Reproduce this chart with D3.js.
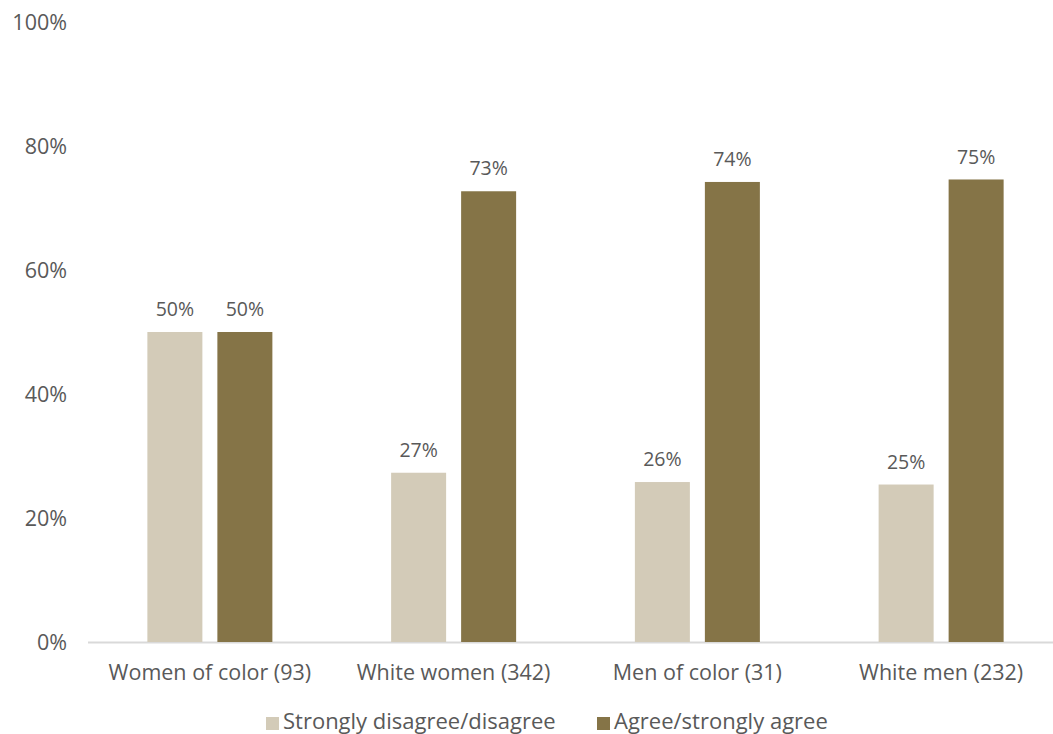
<!DOCTYPE html>
<html><head><meta charset="utf-8">
<script src="https://cdn.jsdelivr.net/npm/d3@7"></script>
<style>
html,body{margin:0;padding:0;background:#fff;}
text{font-family:"Open Sans","Liberation Sans",sans-serif;fill:#595959;}
</style></head>
<body><svg id="chart" width="1053" height="734"></svg>
<script>
const categories = ["Women of color (93)", "White women (342)", "Men of color (31)", "White men (232)"];
const seriesNames = ["Strongly disagree/disagree", "Agree/strongly agree"];
const disagree = [50, 27.3, 25.8, 25.4];
const agree = [50, 72.7, 74.2, 74.6];
const disagreeLabels = ["50%", "27%", "26%", "25%"];
const agreeLabels = ["50%", "73%", "74%", "75%"];
const yTicks = [0, 20, 40, 60, 80, 100];
const colors = ["#d3cbb8", "#857447"];

const svg = d3.select("#chart");
const x0 = 88, x1 = 1063, yTop = 22, yBot = 642;
const x = d3.scaleBand().domain(categories).range([x0, x1]).paddingInner(0).paddingOuter(0);
const y = d3.scaleLinear().domain([0, 100]).range([yBot, yTop]);
const barW = 55, gap = 15;
const sub = d3.scaleOrdinal().domain([0, 1]).range([-(gap / 2) - barW, gap / 2]);

// y tick labels
svg.append("g").selectAll("text").data(yTicks).join("text")
  .attr("x", 67).attr("y", d => y(d)).attr("dy", "0.36em")
  .attr("text-anchor", "end").style("font-size", "21.5px")
  .text(d => d + "%");

// axis line
svg.append("line").attr("x1", x0).attr("x2", 1053).attr("y1", yBot + 0.5).attr("y2", yBot + 0.5)
  .attr("stroke", "#d9d9d9").attr("stroke-width", 2);

const series = [disagree, agree];
const labels = [disagreeLabels, agreeLabels];
series.forEach((vals, si) => {
  const g = svg.append("g");
  g.selectAll("rect").data(vals).join("rect")
    .attr("x", (d, i) => x(categories[i]) + x.bandwidth() / 2 + sub(si))
    .attr("width", barW)
    .attr("y", d => y(d)).attr("height", d => yBot - y(d))
    .attr("fill", colors[si]);
  g.selectAll("text").data(vals).join("text")
    .attr("x", (d, i) => x(categories[i]) + x.bandwidth() / 2 + sub(si) + barW / 2)
    .attr("y", d => y(d) - 23).attr("dy", "0.36em")
    .attr("text-anchor", "middle").style("font-size", "19.5px")
    .text((d, i) => labels[si][i]);
});

// category labels
svg.append("g").selectAll("text").data(categories).join("text")
  .attr("x", d => x(d) + x.bandwidth() / 2).attr("y", 672).attr("dy", "0.36em")
  .attr("text-anchor", "middle").style("font-size", "21.5px")
  .text(d => d);

// legend
const legendX = [266, 597];
const lg = svg.append("g");
seriesNames.forEach((n, i) => {
  lg.append("rect").attr("x", legendX[i]).attr("y", 717).attr("width", 13).attr("height", 13).attr("fill", colors[i]);
  lg.append("text").attr("x", legendX[i] + 17).attr("y", 721).attr("dy", "0.36em")
    .style("font-size", "22px").text(n);
});
</script></body></html>
